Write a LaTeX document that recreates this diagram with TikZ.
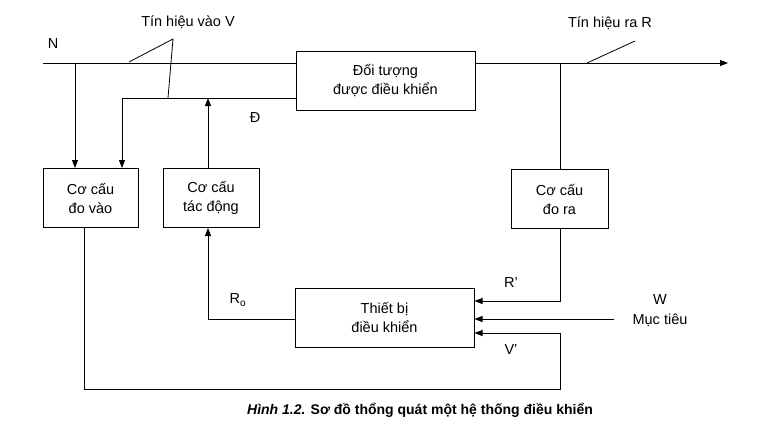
\documentclass[tikz,border=0pt]{standalone}
\usepackage{fontspec}
\setmainfont{Liberation Sans}
\usetikzlibrary{arrows.meta}
\begin{document}
\begin{tikzpicture}[x=1pt,y=-1pt,line width=1pt,
  blk/.style={draw,minimum width=#1,minimum height=59pt,align=center,inner sep=0pt,font=\fontsize{14.5}{19}\selectfont},
  lbl/.style={font=\fontsize{14.5}{17}\selectfont,inner sep=0pt},
  arr/.style={-{Triangle[length=8pt,width=6pt]}}]
\useasboundingbox (0,0) rectangle (761,424);
\node[blk=179pt] (obj) at (385.5,80.5) {Đối tượng\\được điều khiển};
\node[blk=95pt] (dv) at (90.5,198) {Cơ cấu\\đo vào};
\node[blk=96pt] (td) at (211,198) {Cơ cấu\\tác động};
\node[blk=97pt] (dr) at (559.5,199) {Cơ cấu\\đo ra};
\node[blk=179pt] (ctl) at (384.5,317.5) {Thiết bị\\điều khiển};
\coordinate (nin) at (43,63);
\coordinate (rout) at (728,63);
\coordinate (d1) at (75,63);
\coordinate (dl) at (122,98);
\coordinate (t1) at (208,98);
\coordinate (r1) at (560,63);
\coordinate (w0) at (614,319);
\coordinate (vb) at (560,389);
\draw (nin) -- (obj.west |- nin);
\draw[arr] (obj.east |- rout) -- (rout);
\draw[arr] (d1) -- (d1 |- dv.north);
\draw[arr] (obj.west |- dl) -- (dl) -- (dl |- dv.north);
\draw[arr] (td.north -| t1) -- (t1);
\draw (r1) -- (r1 |- dr.north);
\draw[arr] (dr.south -| r1) -- (560,301) -- (ctl.east |- 0,301);
\draw[arr] (w0) -- (ctl.east |- w0);
\draw[arr] (dv.south -| 84,0) -- (84,389) -- (vb) -- (560,333) -- (ctl.east |- 0,333);
\draw[arr] (ctl.west |- 0,319) -- (208,319) -- (td.south -| 208,0);
\node[lbl] (tv) at (188,22) {Tín hiệu vào V};
\node[lbl] (tr) at (610,23) {Tín hiệu ra R};
\coordinate (tvp) at (173,39);
\draw[line width=0.8pt] (129,62) -- (tvp) -- (168,98);
\draw[line width=0.8pt] (587,63) -- (635,41);
\node[lbl] (n) at (53,44) {N};
\node[lbl] (dd) at (255,118) {Đ};
\node[lbl] (rp) at (511,283) {R'};
\node[lbl] (ro) at (238,300) {R$_\mathrm{o}$};
\node[lbl] (vp) at (511,350) {V'};
\node[lbl] (w) at (660,300) {W};
\node[lbl] (mt) at (660,320) {Mục tiêu};
\node[lbl,font=\fontsize{14}{16}\selectfont\bfseries] (cap) at (420,410) {\textit{Hình 1.2.} Sơ đồ thổng quát một hệ thống điều khiển};
\end{tikzpicture}
\end{document}
